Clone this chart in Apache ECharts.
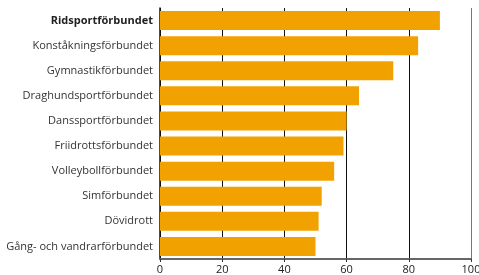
<!DOCTYPE html>
<html>
<head>
<meta charset="utf-8">
<script src="https://cdn.jsdelivr.net/npm/echarts@6/dist/echarts.min.js"></script>
<style>
  html, body { margin: 0; padding: 0; background: #fff; }
  #chart { width: 479px; height: 275px; }
</style>
</head>
<body>
<div id="chart"></div>
<script>
// förbund, uppifrån och ned
const categories = [
  'Ridsportförbundet',
  'Konståkningsförbundet',
  'Gymnastikförbundet',
  'Draghundsportförbundet',
  'Danssportförbundet',
  'Friidrottsförbundet',
  'Volleybollförbundet',
  'Simförbundet',
  'Dövidrott',
  'Gång- och vandrarförbundet'
];
const values = [90, 83, 75, 64, 60, 59, 56, 52, 51, 50];
const xTicks = [0, 20, 40, 60, 80, 100];

const font = '"Open Sans", "DejaVu Sans", sans-serif';
const chart = echarts.init(document.getElementById('chart'));

chart.setOption({
  animation: false,
  grid: { left: 160, right: 8, top: 8, bottom: 16, containLabel: false, outerBoundsMode: 'none' },
  xAxis: {
    type: 'value',
    min: xTicks[0],
    max: xTicks[xTicks.length - 1],
    interval: 20,
    axisLine: { show: true, lineStyle: { color: '#666', width: 2 } },
    axisTick: { show: true, length: 3, lineStyle: { color: '#333' } },
    axisLabel: { color: '#222', fontSize: 11, fontFamily: font, margin: 5 },
    splitLine: {
      show: true,
      lineStyle: {
        color: ['#111', '#111', '#111', '#111', '#111', '#777'],
        width: 1
      }
    }
  },
  yAxis: {
    type: 'category',
    data: categories,
    inverse: true,
    axisLine: { show: true, lineStyle: { color: '#111', width: 1.5 } },
    axisTick: { show: false },
    axisLabel: {
      color: '#333',
      fontSize: 11,
      fontFamily: font,
      margin: 7,
      formatter: (v, i) => (i === 0 ? '{b|' + v + '}' : v),
      rich: {
        b: { fontWeight: 'bold', color: '#222', fontSize: 11, fontFamily: font }
      }
    }
  },
  series: [{
    type: 'bar',
    data: values,
    barWidth: 19,
    itemStyle: { color: '#F2A200' }
  }]
});
</script>
</body>
</html>
